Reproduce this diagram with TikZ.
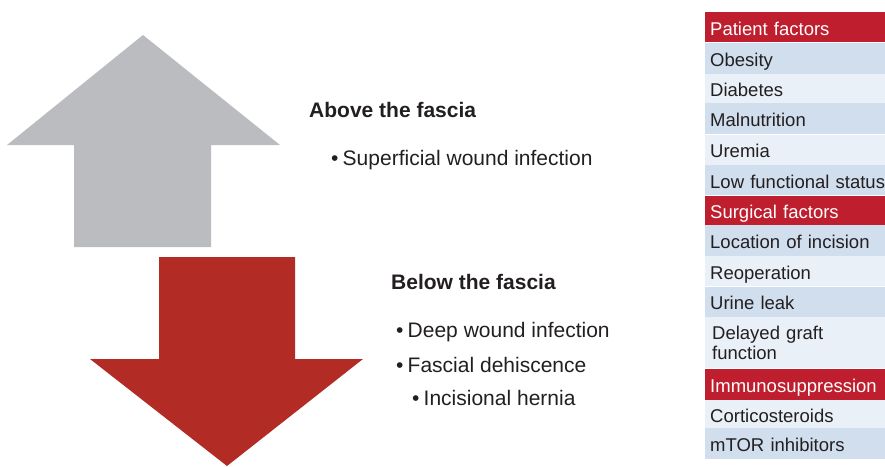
\documentclass[tikz,border=0pt]{standalone}
\usepackage{fontspec}
\setmainfont{Liberation Sans}
\usetikzlibrary{positioning}
\definecolor{fasciagray}{RGB}{187,188,192}
\definecolor{fasciared}{RGB}{179,43,37}
\definecolor{headred}{RGB}{190,30,45}
\definecolor{rowdark}{RGB}{208,222,238}
\definecolor{rowlight}{RGB}{233,240,248}
\definecolor{inkgray}{RGB}{35,31,32}
\tikzset{
  rowbase/.style={rectangle, anchor=north west, text width=176pt, inner xsep=5pt, inner ysep=0pt,
                  align=left, minimum height=30pt, text height=16pt, text depth=0pt,
                  font=\fontsize{18.5}{20}\selectfont},
  headrow/.style={rowbase, fill=headred, text=white},
  darkrow/.style={rowbase, fill=rowdark, text=inkgray},
  lightrow/.style={rowbase, fill=rowlight, text=inkgray},
  zonetitle/.style={anchor=base west, inner sep=0pt, font=\fontsize{21}{24}\selectfont\bfseries, text=inkgray},
  zoneitem/.style={anchor=base west, inner sep=0pt, font=\fontsize{21}{24}\selectfont, text=inkgray},
}
\begin{document}
\begin{tikzpicture}[x=1pt, y=-1pt]
  \useasboundingbox (0,0) rectangle (885,466);

  % arrows
  \fill[fasciagray] (143,35) -- (280,145) -- (211,145) -- (211,247) -- (74,247) -- (74,145) -- (7,145) -- cycle;
  \fill[fasciared] (159,257) -- (295,257) -- (295,359) -- (363,359) -- (227,466) -- (90,359) -- (159,359) -- cycle;

  % middle text
  \node[zonetitle] (above) at (309,117) {Above the fascia};
  \node[zoneitem] (superficial) at (331,165) {\textbullet\hspace{0.2em}Superficial wound infection};

  \node[zonetitle] (below) at (391,289) {Below the fascia};
  \node[zoneitem] (deep) at (396,337) {\textbullet\hspace{0.2em}Deep wound infection};
  \node[zoneitem] (dehiscence) at (396,372) {\textbullet\hspace{0.2em}Fascial dehiscence};
  \node[zoneitem] (hernia) at (412,405) {\textbullet\hspace{0.2em}Incisional hernia};

  % risk factor table
  \node[headrow] (patient) at (705,12) {Patient factors};
  \node[darkrow, minimum height=31pt, below=0pt of patient] (obesity) {Obesity};
  \node[lightrow, minimum height=29pt, below=0pt of obesity] (diabetes) {Diabetes};
  \node[darkrow, minimum height=31pt, below=0pt of diabetes] (malnutrition) {Malnutrition};
  \node[lightrow, below=0pt of malnutrition] (uremia) {Uremia};
  \node[darkrow, below=0pt of uremia] (lowstatus) {Low functional status};

  \node[headrow, minimum height=29pt, below=0pt of lowstatus] (surgical) {Surgical factors};
  \node[darkrow, minimum height=31pt, below=0pt of surgical] (location) {Location of incision};
  \node[lightrow, below=0pt of location] (reoperation) {Reoperation};
  \node[darkrow, below=0pt of reoperation] (urine) {Urine leak};
  \node[lightrow, minimum height=51pt, text height=13pt, text depth=20pt, below=0pt of urine] (delayed) {\hspace{2pt}Delayed graft\\\hspace{2pt}function};

  \node[headrow, minimum height=31pt, below=0pt of delayed] (immuno) {Immunosuppression};
  \node[lightrow, minimum height=28pt, below=0pt of immuno] (cortico) {Corticosteroids};
  \node[darkrow, minimum height=31pt, below=0pt of cortico] (mtor) {mTOR inhibitors};
\end{tikzpicture}
\end{document}
